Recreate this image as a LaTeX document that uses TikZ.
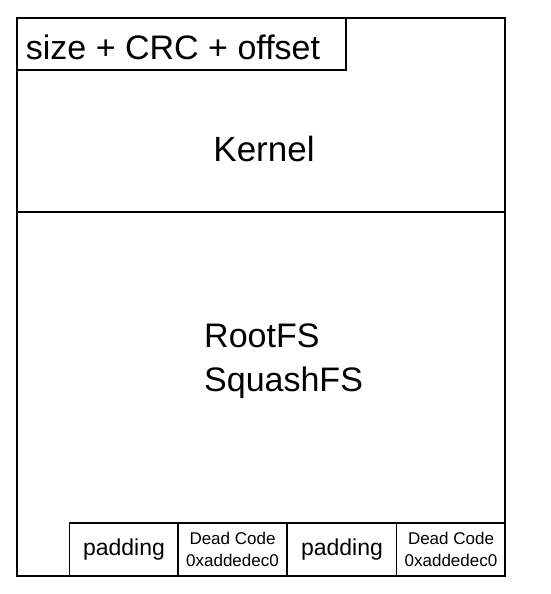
\documentclass[tikz,border=0pt]{standalone}
\usepackage{fontspec}
\setmainfont{Liberation Sans}
\usepackage{tikz}

\begin{document}
\begin{tikzpicture}
		[
			x=1pt, y=-1pt,
			part/.style = {rectangle, draw=black, line width=1.2pt, fill=none, inner sep=0pt},
			big/.style = {align=left, font=\fontsize{34}{44}\selectfont, inner sep=0pt},
			small/.style = {align=center, font=\fontsize{17}{22}\selectfont, inner sep=0pt},
		]
		\useasboundingbox (0,0) rectangle (550,594);

		% image sections
		\node[part, minimum width=488pt, minimum height=194pt] (kernel) 	at ( 261, 115 ) {};
		\node[part, minimum width=488pt, minimum height=364pt] (rootfs) 	at ( 261, 394 ) {};
		\node[part, minimum width=329pt, minimum height=52pt] (header) 	at ( 181.5, 44 ) {};

		% labels
		\node[big] (hdrtxt) 	at ( 173, 47 ) {size + CRC + offset};
		\node[big, font=\fontsize{35}{44}\selectfont] (kertxt) 	at ( 264, 149 ) {Kernel};
		\node[big, anchor=west] (fstxt) 	at ( 204, 361 ) {RootFS\\SquashFS};

		% trailing blocks
		\foreach \name/\x in {pad1/124,dead1/232.5,pad2/342,dead2/451}
		\node[part, minimum width=109pt, minimum height=53pt] (\name) 	at ( \x, 549.5 ) {};

		\node[small, font=\fontsize{23}{28}\selectfont] (p1) 	at (pad1) {padding};
		\node[small] (d1) 	at (dead1) {Dead Code\\0xaddedec0};
		\node[small, font=\fontsize{23}{28}\selectfont] (p2) 	at (pad2) {padding};
		\node[small] (d2) 	at (dead2) {Dead Code\\0xaddedec0};

		\end{tikzpicture}
\end{document}
